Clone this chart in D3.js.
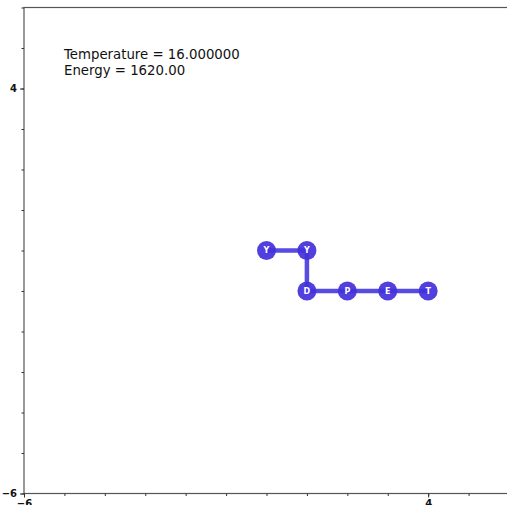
<!DOCTYPE html>
<html>
<head>
<meta charset="utf-8">
<script src="https://cdn.jsdelivr.net/npm/d3@7"></script>
<style>
  html, body { margin: 0; padding: 0; background: #fff; }
  svg { display: block; }
</style>
</head>
<body>
<svg id="chart" width="507" height="505"></svg>
<script>
// Lattice protein fold: residue letters and their grid positions
const residues = ["Y", "Y", "D", "P", "E", "T"];
const xs = [0, 1, 1, 2, 3, 4];
const ys = [0, 0, -1, -1, -1, -1];
const annotationLines = ["Temperature = 16.000000", "Energy = 1620.00"];
const majorTicks = [-6, 4];
const minorTicks = d3.range(-6, 7);

const svg = d3.select("#chart");
const plotLeft = 24, plotTop = 7.5, plotBottom = 493.5, plotRight = 509;

const x = d3.scaleLinear().domain([-6, 6]).range([plotLeft, plotRight]);
const y = d3.scaleLinear().domain([-6, 6]).range([plotBottom, plotTop]);

// Frame
svg.append("rect")
  .attr("x", plotLeft).attr("y", plotTop)
  .attr("width", plotRight - plotLeft).attr("height", plotBottom - plotTop)
  .attr("fill", "none").attr("stroke", "#555").attr("stroke-width", 1.2);

// Minor ticks
const minorX = svg.append("g").attr("transform", `translate(0,${plotBottom})`)
  .call(d3.axisBottom(x).tickValues(minorTicks).tickSize(2.5).tickFormat(""));
const minorY = svg.append("g").attr("transform", `translate(${plotLeft},0)`)
  .call(d3.axisLeft(y).tickValues(minorTicks).tickSize(2.5).tickFormat(""));

// Major ticks with labels
const majorX = svg.append("g").attr("transform", `translate(0,${plotBottom})`)
  .call(d3.axisBottom(x).tickValues(majorTicks).tickSize(4).tickPadding(2).tickFormat(d3.format("d")));
const majorY = svg.append("g").attr("transform", `translate(${plotLeft},0)`)
  .call(d3.axisLeft(y).tickValues(majorTicks).tickSize(4).tickPadding(3).tickFormat(d3.format("d")));

[minorX, minorY, majorX, majorY].forEach(g => {
  g.select(".domain").remove();
  g.selectAll(".tick line").attr("stroke", "#333").attr("stroke-width", 1);
  g.selectAll(".tick text")
    .attr("font-family", "DejaVu Sans, sans-serif")
    .attr("font-size", 10)
    .attr("font-weight", "bold")
    .attr("fill", "#111");
});

// Backbone
const line = d3.line().x((d, i) => x(xs[i])).y((d, i) => y(ys[i]));
svg.append("path")
  .datum(residues)
  .attr("d", line)
  .attr("fill", "none")
  .attr("stroke", "rgb(70,55,222)")
  .attr("stroke-width", 4.5)
  .attr("stroke-opacity", 0.9);

// Residues
const nodes = svg.append("g").selectAll("g")
  .data(residues)
  .join("g")
  .attr("transform", (d, i) => `translate(${x(xs[i])},${y(ys[i])})`);

nodes.append("circle")
  .attr("r", 9.5)
  .attr("fill", "rgb(66,48,218)")
  .attr("fill-opacity", 0.92);

nodes.append("text")
  .text(d => d)
  .attr("text-anchor", "middle")
  .attr("dy", "0.35em")
  .attr("font-family", "DejaVu Sans, sans-serif")
  .attr("font-size", 8)
  .attr("font-weight", "bold")
  .attr("fill", "#fff");

// Annotation
svg.append("g").selectAll("text")
  .data(annotationLines)
  .join("text")
  .attr("x", 64)
  .attr("y", (d, i) => 59 + i * 16)
  .attr("font-family", "DejaVu Sans, sans-serif")
  .attr("font-size", 13.3)
  .attr("fill", "#111")
  .text(d => d);
</script>
</body>
</html>
